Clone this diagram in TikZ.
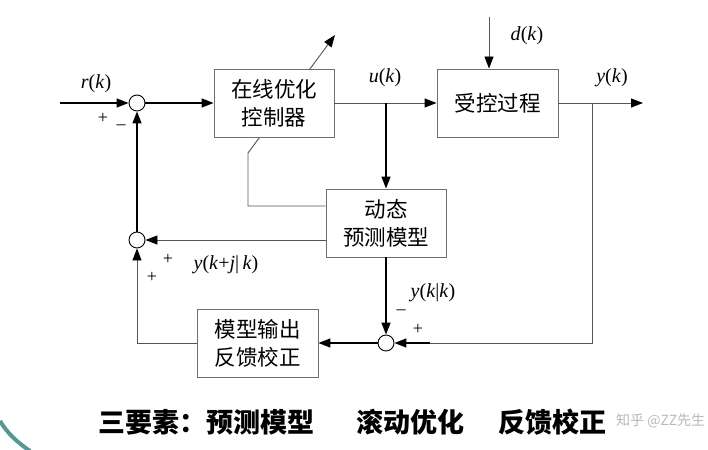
\documentclass[tikz,border=0pt]{standalone}
\usepackage{fontspec}
\setmainfont{Liberation Serif}
\newfontfamily\cjk{Noto Sans CJK SC}
\usetikzlibrary{arrows.meta,backgrounds}
\definecolor{linegray}{RGB}{85,85,85}
\definecolor{boxgray}{RGB}{110,110,110}
\definecolor{arcteal}{RGB}{85,150,150}
\tikzset{
  blk/.style={draw=boxgray, line width=0.9pt, fill=white, minimum width=120pt, minimum height=68pt, inner sep=0pt, align=center, font=\cjk\fontsize{21.5}{28}\selectfont},
  sumc/.style={circle, draw=black, line width=0.9pt, fill=white, minimum size=16pt, inner sep=0pt},
  arr/.style={-{Triangle[length=12pt,width=9pt,color=black]}},
  thk/.style={line width=1.5pt, black},
  thn/.style={line width=0.9pt, linegray},
  lab/.style={font=\fontsize{20}{20}\selectfont, inner sep=0pt},
  sgn/.style={font=\fontsize{18}{18}\selectfont, inner sep=0pt},
}
\begin{document}
\begin{tikzpicture}[x=1pt,y=-1pt]
\useasboundingbox (0,0) rectangle (708,449);
% blocks
\node[blk] (ctrl) at (274,103) {在线优化\\控制器};
\node[blk, minimum width=121pt] (plant) at (497.5,103) {受控过程};
\node[blk] (model) at (386,223) {动态\\预测模型};
\node[blk, minimum width=121pt] (fb) at (257.5,343) {模型输出\\反馈校正};
% summing junctions
\node[sumc] (s1) at (137,103) {};
\node[sumc] (s2) at (137,240) {};
\node[sumc] (s3) at (386,343) {};
% free ends
\coordinate (in) at (60,103);
\coordinate (out) at (643,103);
\coordinate (ju) at (386,103);
\coordinate (jy) at (592,103);
\coordinate (dtop) at (489,17);
\coordinate (kb) at (248,206);
\coordinate (kc) at (248,153);
\coordinate (ktip) at (335,35);
\coordinate (s3in) at (430,343);
% connectors
\draw[thk,arr] (in) -- (s1.west);
\draw[thk,arr] (s1.east) -- (ctrl.west);
\draw[thn,arr] (ctrl.east) -- (plant.west);
\draw[thn,arr] (dtop) -- (dtop |- plant.north);
\draw[thn,arr] (plant.east) -- (out);
\draw[thk,arr] (ju) -- (model.north);
\draw[thn] (jy) |- (s3in);
\draw[thk,arr] (s3in) -- (s3.east);
\draw[thk,arr] (model.south) -- (s3.north);
\draw[thk,arr] (s3.west) -- (fb.east);
\draw[thn,arr] (fb.west) -| (s2.south);
\draw[thn,arr] (model.west |- s2) -- (s2.east);
\draw[thk,arr] (s2.north) -- (s1.south);
\begin{scope}[on background layer]
\draw[thn,arr] (model.west |- kb) -- (kb) -- (kc) -- (ktip);
\end{scope}
% labels
\node[lab] (lr) at (96,84) {\textit{r}(\textit{k})};
\node[lab] (lu) at (385,78) {\textit{u}(\textit{k})};
\node[lab] (ld) at (527,36) {\textit{d}(\textit{k})};
\node[lab] (ly) at (612,78) {\textit{y}(\textit{k})};
\node[lab] (lyj) at (226,265) {\textit{y}(\textit{k}+\textit{j}|\,\textit{k})};
\node[lab] (lyk) at (433,293) {\textit{y}(\textit{k}|\textit{k})};
% signs
\node[sgn] (p1) at (103,118) {+};
\node[sgn] (m1) at (121,127) {–};
\node[sgn] (p2) at (168,259) {+};
\node[sgn] (p3) at (152,277) {+};
\node[sgn] (m3) at (401,312) {–};
\node[sgn] (p4) at (418,329) {+};
% bottom caption
\node[font=\cjk\bfseries\fontsize{27}{27}\selectfont, inner sep=0pt, anchor=west] (c1) at (98,422) {三要素：预测模型};
\node[font=\cjk\bfseries\fontsize{27}{27}\selectfont, inner sep=0pt, anchor=west] (c2) at (356,422) {滚动优化};
\node[font=\cjk\bfseries\fontsize{27}{27}\selectfont, inner sep=0pt, anchor=west] (c3) at (498,422) {反馈校正};
\node[font=\cjk\fontsize{14}{14}\selectfont, text=black!28, inner sep=0pt, anchor=west] (wm) at (616,421) {知乎 @ZZ先生};
% corner arc
\draw[arcteal, line width=4pt] (0,421) .. controls (8,434) and (17,442) .. (30,451);
\end{tikzpicture}
\end{document}
